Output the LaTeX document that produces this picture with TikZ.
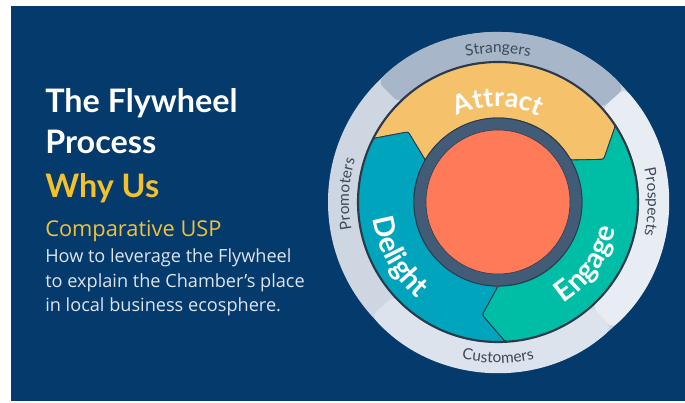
\documentclass[tikz,border=0pt]{standalone}
\usepackage{fontspec}
\setmainfont{Open Sans}
\newfontfamily\headfont{Lato}
\usepackage{tikz}
\usetikzlibrary{calc,decorations.text}

\definecolor{navy}{HTML}{053A6D}
\definecolor{gold}{HTML}{F5C12A}
\definecolor{goldsoft}{HTML}{F0C23B}
\definecolor{bodygray}{HTML}{DDE4EE}
\definecolor{promoters}{HTML}{CDD6E1}
\definecolor{strangers}{HTML}{A7B6C8}
\definecolor{customers}{HTML}{DCE3EC}
\definecolor{prospects}{HTML}{E8EDF3}
\definecolor{ringtext}{HTML}{3D4A5A}
\definecolor{attract}{HTML}{F5C26B}
\definecolor{engage}{HTML}{00BDA5}
\definecolor{delight}{HTML}{00A4BD}
\definecolor{hub}{HTML}{425B76}
\definecolor{core}{HTML}{FF7A59}
\definecolor{segline}{HTML}{2B3A4A}

\newcommand{\ringfont}{\headfont\fontsize{11}{13}\selectfont}
\newcommand{\attractfont}{\headfont\bfseries\fontsize{19}{22}\selectfont}
\newcommand{\phasefont}{\headfont\bfseries\fontsize{20.5}{24}\selectfont}

\tikzset{
    headline/.style={anchor=base west, inner sep=0, font=\headfont\bfseries\fontsize{23}{27}\selectfont, text=white},
    whyline/.style={headline, text=gold},
    uspline/.style={anchor=base west, inner sep=0, font=\fontsize{15.5}{18}\selectfont, text=goldsoft},
    bodyline/.style={anchor=base west, inner sep=0, font=\fontsize{12.9}{15}\selectfont, text=bodygray},
    segment/.style={draw=segline, line width=0.6pt, rounded corners=1.5pt},
    ringlabel/.style={decorate, decoration={text along path, text align=center, text color=ringtext, text={|\ringfont|#1}}},
    attractlabel/.style={decorate, decoration={text along path, text align=center, text color=white, text={|\attractfont|#1}}},
    phaselabel/.style={decorate, decoration={text along path, text align=center, text color=white, text={|\phasefont|#1}}},
}

\begin{document}
\begin{tikzpicture}[x=0.025cm, y=0.025cm]
    \useasboundingbox (0,0) rectangle (685,402);
    \fill[navy] (11,1) rectangle (685,396);

    % title block
    \node[headline] (title1) at (45,289) {The Flywheel};
    \node[headline] (title2) at (45,248) {Process};
    \node[whyline] (why) at (45,204) {Why Us};
    \node[uspline] (usp) at (45,165) {Comparative USP};
    \node[bodyline] (body1) at (45,139) {How to leverage the Flywheel};
    \node[bodyline] (body2) at (45,114) {to explain the Chamber’s place};
    \node[bodyline] (body3) at (45,90) {in local business ecosphere.};

    \coordinate (c) at (498,200);

    % outer ring
    \fill[promoters] (c) circle[radius=170];
    \foreach \a/\b/\col in {-48/42/prospects, 222/312/customers, 42/135/strangers}
        \fill[fill=\col, rounded corners=5pt] ($(c)+(\a:140)$) arc[start angle=\a, end angle=\b, radius=140]
            -- ($(c)+(\b:170)$) arc[start angle=\b, end angle=\a, radius=170] -- cycle;

    % the three phases
    \foreach \s/\e/\col in {153/33/attract, 33/-87/engage, 273/153/delight}
        \filldraw[segment, fill=\col] ($(c)+(\s:140)$) arc[start angle=\s, end angle=\e, radius=140]
            -- ($(c)+({\e-11}:114)$) -- ($(c)+({\e-3}:84)$)
            arc[start angle={\e-3}, end angle={\s-3}, radius=84]
            -- ($(c)+({\s-11}:114)$) -- cycle;
    \draw[segline, line width=1.5pt] (c) circle[radius=140];

    % hub
    \filldraw[fill=hub, draw=segline, line width=0.6pt] (c) circle[radius=84];
    \filldraw[fill=core, draw=segline, line width=0.4pt] (c) circle[radius=72];

    % phase names
    \path[attractlabel=Attract] ($(c)+(150:95)$) arc[start angle=150, end angle=30, radius=95];
    \path[phaselabel=Engage] ($(c)+(-95:121)$) arc[start angle=-95, end angle=25, radius=121];
    \path[phaselabel=Delight] ($(c)+(149:126)$) arc[start angle=149, end angle=269, radius=126];

    % audience names
    \path[ringlabel=Strangers] ($(c)+(150:149)$) arc[start angle=150, end angle=30, radius=149];
    \path[ringlabel=Prospects] ($(c)+(60:150)$) arc[start angle=60, end angle=-60, radius=150];
    \path[ringlabel=Promoters] ($(c)+(237:149)$) arc[start angle=237, end angle=117, radius=149];
    \path[ringlabel=Customers] ($(c)+(210:161)$) arc[start angle=210, end angle=330, radius=161];
\end{tikzpicture}
\end{document}
